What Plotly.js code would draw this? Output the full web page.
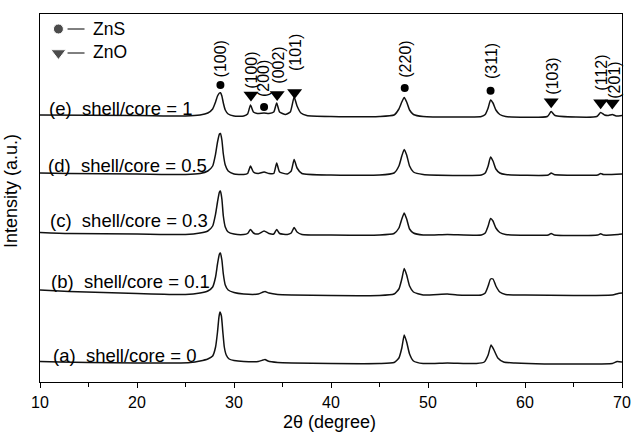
<!DOCTYPE html>
<html>
<head>
<meta charset="utf-8">
<script src="https://cdn.plot.ly/plotly-3.0.1.min.js"></script>
<style>html,body{margin:0;padding:0;background:#fff;}#chart{width:633px;height:432px;}</style>
</head>
<body>
<div id="chart"></div>
<script>
// ---- data (2θ in degrees, intensity in arbitrary stacked units) ----
const xA = [10,12,15,20,24,25.5,26.5,27.3,27.8,28.1,28.3,28.45,28.55,28.7,28.85,29.0,29.2,29.5,30,31,32.5,33.0,33.2,33.5,34.5,36,40,45,46.5,47.0,47.3,47.55,47.8,48.1,48.5,49.5,52,55,55.8,56.2,56.5,56.8,57.2,57.8,59,62,66,69,69.5,70];
const yA = [20.5,20,19.5,19,19,19.5,21,23,26,35,50,65,70,66,50,35,27,23,21.5,20.5,20.5,22,22.5,21,19.5,19,18.5,18.5,19.5,24,34,47,40,28,21,18.5,19,18.5,20,27,37,32,24,20,19,18,18,18.5,20.5,20];

const xB = [10,13,20,25,26.5,27.3,27.8,28.1,28.3,28.5,28.6,28.75,28.9,29.1,29.4,30,31,32.5,33.0,33.2,33.6,34.5,36,40,45,46.5,47.0,47.3,47.55,47.8,48.1,48.5,49.5,52,53,55.5,55.9,56.2,56.45,56.7,57.0,57.4,58,60,65,69,69.6,70];
const yB = [92,90.5,88.5,87.5,89,91,95,105,118,128,129,122,108,97,92,89.5,88,88,90,90.5,89,87.5,87,86.5,86.5,88,93,103,113.5,107,96,90,87,88,87,87,89,96,103,103,96,90,87.5,87,86.5,87,88.5,89];

const xC = [10,13,20,25,26.5,27.3,27.8,28.1,28.3,28.5,28.6,28.75,28.9,29.1,29.4,30,31,31.4,31.7,32.0,32.5,33.1,33.6,34.1,34.4,34.7,35.5,35.9,36.2,36.5,37,40,45,46.5,47.0,47.3,47.55,47.8,48.1,48.5,49.5,52,55.5,55.9,56.2,56.45,56.7,57.0,57.4,58,62.4,62.7,63,67.5,67.8,68.1,69.6,70];
const yC = [149.5,148.5,148,147.5,149,151,156,168,180,190,191,183,166,155,150,148,147.5,148.5,152.5,149,148,151,148.5,148,152.5,148.5,147.5,149,154.5,150,147.5,147,147,148.5,154,163,169,163,153,149,147,147.5,147,149,156,163.5,161,154,149.5,147.5,147,148.5,147,147,148.3,147,147.5,148];

const xD = [10,13,20,25,26.5,27.3,27.8,28.1,28.3,28.5,28.6,28.75,28.9,29.1,29.4,30,31,31.4,31.7,32.0,32.5,33.1,33.6,34.1,34.4,34.7,35.5,35.9,36.2,36.5,37,40,45,46.5,47.0,47.3,47.55,47.8,48.1,48.5,49.5,55.5,55.9,56.2,56.45,56.7,57.0,57.4,58,62.4,62.7,63.0,67.5,67.8,68.1,70];
const yD = [209,208.5,208,207.5,208.5,211,216,228,240,248,248.5,242,228,217,211,208,207.5,208.5,216,210,208.5,210,208.5,208.5,219,210,208,211,222.5,214,208.5,207,207,209,216,226,232.5,227,216,210,207.5,207,209,216,225,221,213,209,207.5,207,209,207.5,207,208.5,207.5,208];

const xE = [10,20,25,26.5,27.3,27.8,28.1,28.3,28.5,28.6,28.75,28.9,29.1,29.4,30,31,31.4,31.7,32.0,32.4,33.1,33.6,34.1,34.4,34.7,35.3,35.8,36.2,36.5,36.9,37.5,40,45,46.5,47.0,47.3,47.55,47.8,48.1,48.5,49.5,55.5,55.9,56.2,56.45,56.7,57.0,57.4,58,62.3,62.7,63.1,67.4,67.8,68.2,68.6,69.0,69.4,70];
const yE = [267,266.5,266,267,269,273,280,286,289,289.3,286,279,272,268,266,266,268,277,270,268.5,269,268.5,270,279,270,267.5,270,285,276,269,266.5,265.5,265.5,267,273,280,284.5,280,272,267.5,265.5,265.5,267.5,274,282,279,272,267.5,265.5,265.5,270.5,266.5,265.5,269.5,267,266.5,267.5,266,266.5];

const sampleLabels = ["(a)\u00a0 shell/core = 0","(b)\u00a0 shell/core = 0.1","(c)\u00a0 shell/core = 0.3","(d)\u00a0 shell/core = 0.5","(e)\u00a0 shell/core = 1"];
const sampleLabelX = [11.15,10.9,10.8,10.64,10.77];
const sampleLabelY = [27,101,161.3,217,273.7];

// phase markers on curve (e)
const znsX = [28.6,33.1,47.6,56.45];
const znsY = [297,275,294,291.3];
const znoX = [31.75,34.45,36.25,62.7,67.8,69.0];
const znoY = [287,287.5,289.5,280.3,279.3,279];

// peak (hkl) labels
const hklText = ["(100)","(100)","(200)","(002)","(101)","(220)","(311)","(103)","(112)","(201)"];
const hklX = [28.65,31.73,33.0,34.5,36.35,47.6,56.5,62.75,67.85,69.2];
const hklY = [323.5,312,303,317,329.5,323,321,306,309.5,301.5];

// legend
const legendNames = ["ZnS","ZnO"];
const legendSymbols = ["circle","triangle-down"];
const legendX = [11.9,11.9];
const legendY = [353,329];

const xTicks = [10,20,30,40,50,60,70];

// ---- figure ----
const lineStyle = {color:'#111', width:1.5, shape:'spline', smoothing:0.5};
const traces = [
  {x:xA,y:yA},{x:xB,y:yB},{x:xC,y:yC},{x:xD,y:yD},{x:xE,y:yE}
].map(t => Object.assign(t,{type:'scatter',mode:'lines',line:lineStyle,hoverinfo:'skip',showlegend:false}));

traces.push({type:'scatter',mode:'markers',x:znsX,y:znsY,marker:{symbol:'circle',size:8,color:'#000'},showlegend:false,hoverinfo:'skip'});
traces.push({type:'scatter',mode:'markers',x:znoX,y:znoY,marker:{symbol:'triangle-down',size:13,color:'#000'},showlegend:false,hoverinfo:'skip'});
traces.push({type:'scatter',mode:'markers',x:legendX,y:legendY,marker:{symbol:legendSymbols,size:[10,13],color:'#000'},showlegend:false,hoverinfo:'skip'});

const font = {family:'"Liberation Sans", Arial, Helvetica, sans-serif', color:'#000'};
const annotations = [];
sampleLabels.forEach((t,i)=>annotations.push({x:sampleLabelX[i],y:sampleLabelY[i],xref:'x',yref:'y',text:t,showarrow:false,xanchor:'left',yanchor:'middle',font:Object.assign({},font,{size:18.5})}));
hklText.forEach((t,i)=>annotations.push({x:hklX[i],y:hklY[i],xref:'x',yref:'y',text:t,textangle:-90,showarrow:false,xanchor:'center',yanchor:'middle',font:Object.assign({},font,{size:16})}));
legendNames.forEach((t,i)=>annotations.push({x:15.3,y:legendY[i]+(i?1:0),xref:'x',yref:'y',text:t,showarrow:false,xanchor:'left',yanchor:'middle',font:Object.assign({},font,{size:17.5})}));
annotations.push({x:0.497,y:-0.1087,xref:'paper',yref:'paper',text:'2θ (degree)',showarrow:false,xanchor:'center',yanchor:'middle',font:Object.assign({},font,{size:18})});
annotations.push({x:-29/582,y:0.519,xref:'paper',yref:'paper',text:'Intensity (a.u.)',textangle:-90,showarrow:false,xanchor:'center',yanchor:'middle',font:Object.assign({},font,{size:18})});

const shapes = legendY.map(y=>({type:'line',xref:'x',yref:'y',x0:12.84,x1:14.59,y0:y,y1:y,line:{color:'#000',width:1}}));

const layout = {
  width:633,height:432,
  margin:{l:40,r:11,t:14,b:50,pad:0},
  paper_bgcolor:'#fff',plot_bgcolor:'#fff',
  font:font,
  showlegend:false,
  xaxis:{range:[10,70],tickvals:xTicks,ticktext:xTicks.map(String),ticks:'outside',ticklen:5,tickwidth:1,tickcolor:'#000',
         minor:{dtick:5,tick0:10,ticks:'outside',ticklen:4,tickcolor:'#000',showgrid:false},
         showline:true,linecolor:'#000',linewidth:1.3,mirror:true,showgrid:false,zeroline:false,
         tickfont:Object.assign({},font,{size:16})},
  yaxis:{range:[0,368],showticklabels:false,ticks:'',showline:true,linecolor:'#000',linewidth:1.3,mirror:true,showgrid:false,zeroline:false},
  annotations:annotations,
  shapes:shapes
};
Plotly.newPlot('chart',traces,layout,{staticPlot:true,displayModeBar:false});
</script>
</body>
</html>
